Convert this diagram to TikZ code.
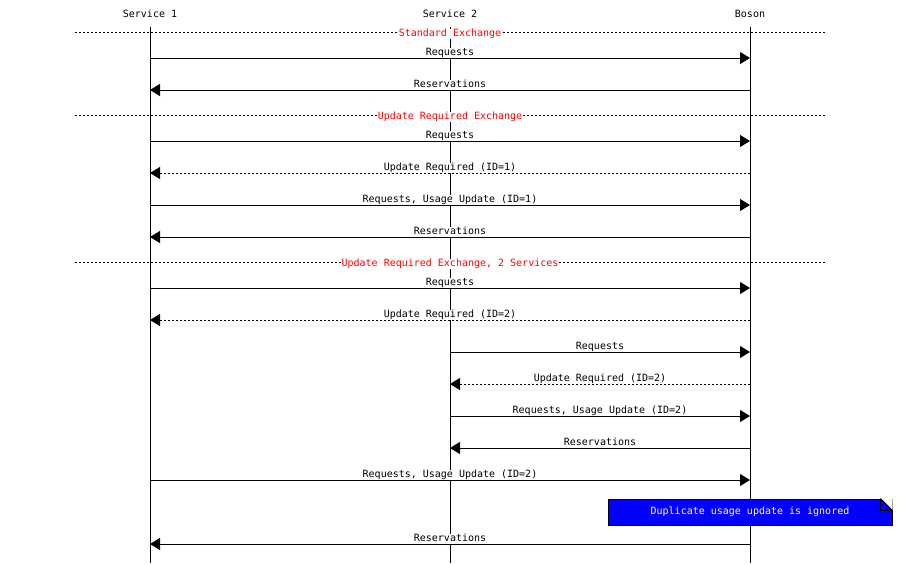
\documentclass[tikz,border=0pt]{standalone}
\usepackage{fontspec}
\setmainfont{DejaVu Sans Mono}
\usetikzlibrary{arrows.meta, positioning}
\tikzstyle{actor} = [text height=7pt, text depth=2pt, inner sep=7pt]
\tikzstyle{life} = [line width=1pt]
\tikzstyle{msg} = [line width=1pt, -{Triangle[length=10pt, width=12pt]}]
\tikzstyle{reply} = [msg, dash pattern=on 2pt off 2pt]
\tikzstyle{lbl} = [above, fill=white, inner sep=0.5pt, text height=7pt, text depth=2pt]
\tikzstyle{sep} = [line width=1pt, dash pattern=on 2pt off 2pt]
\tikzstyle{seplbl} = [fill=white, text=red, inner sep=0.5pt, text height=7pt, text depth=2pt, yshift=-1.5pt]
\tikzstyle{note} = [rectangle, draw=black, fill=blue, text=white, line width=1pt, minimum width=284pt, minimum height=26pt, inner sep=0pt]

\begin{document}
\begin{tikzpicture}[x=1pt, y=-1pt]
    \useasboundingbox (0,0) rectangle (900,563);

    % Participants
    \node[actor, anchor=south] (s1) at (150,27) {Service 1};
    \node[actor, anchor=south] (s2) at (450,27) {Service 2};
    \node[actor, anchor=south] (boson) at (750,27) {Boson};
    \coordinate (s1end) at (150,563);
    \coordinate (s2end) at (450,563);
    \coordinate (bosonend) at (750,563);
    \draw[life] (s1.south) -- (s1end);
    \draw[life] (s2.south) -- (s2end);
    \draw[life] (boson.south) -- (bosonend);

    % Message rows on the lifelines
    \foreach \n/\y in {1/58, 2/90, 3/141, 4/173, 5/205, 6/237, 7/288, 8/320,
                       9/352, 10/384, 11/416, 12/448, 13/480, 14/544} {
        \coordinate (a\n) at (150,\y);
        \coordinate (b\n) at (450,\y);
        \coordinate (c\n) at (750,\y);
    }

    % Standard exchange
    \coordinate (sepl1) at (75,32);
    \coordinate (sepr1) at (825,32);
    \draw[sep] (sepl1) -- node[seplbl] {Standard Exchange} (sepr1);
    \draw[msg] (a1) -- node[lbl] {Requests} (c1);
    \draw[msg] (c2) -- node[lbl] {Reservations} (a2);

    % Update required exchange
    \coordinate (sepl2) at (75,115);
    \coordinate (sepr2) at (825,115);
    \draw[sep] (sepl2) -- node[seplbl] {Update Required Exchange} (sepr2);
    \draw[msg] (a3) -- node[lbl] {Requests} (c3);
    \draw[reply] (c4) -- node[lbl] {Update Required (ID=1)} (a4);
    \draw[msg] (a5) -- node[lbl] {Requests, Usage Update (ID=1)} (c5);
    \draw[msg] (c6) -- node[lbl] {Reservations} (a6);

    % Update required exchange, two services
    \coordinate (sepl3) at (75,262);
    \coordinate (sepr3) at (825,262);
    \draw[sep] (sepl3) -- node[seplbl] {Update Required Exchange, 2 Services} (sepr3);
    \draw[msg] (a7) -- node[lbl] {Requests} (c7);
    \draw[reply] (c8) -- node[lbl] {Update Required (ID=2)} (a8);
    \draw[msg] (b9) -- node[lbl] {Requests} (c9);
    \draw[reply] (c10) -- node[lbl] {Update Required (ID=2)} (b10);
    \draw[msg] (b11) -- node[lbl] {Requests, Usage Update (ID=2)} (c11);
    \draw[msg] (c12) -- node[lbl] {Reservations} (b12);
    \draw[msg] (a13) -- node[lbl] {Requests, Usage Update (ID=2)} (c13);

    % Note with folded corner
    \node[note] (dup) at (750,512) {Duplicate usage update is ignored};
    \fill[white] (dup.north east) -- ([xshift=-12pt]dup.north east) -- ([yshift=-12pt]dup.north east) -- cycle;
    \draw[line width=1pt] ([xshift=-12pt]dup.north east) -- ([yshift=-12pt]dup.north east);
    \draw[line width=1pt] ([xshift=-12pt]dup.north east) |- ([yshift=-12pt]dup.north east);

    \draw[msg] (c14) -- node[lbl] {Reservations} (a14);
\end{tikzpicture}
\end{document}
